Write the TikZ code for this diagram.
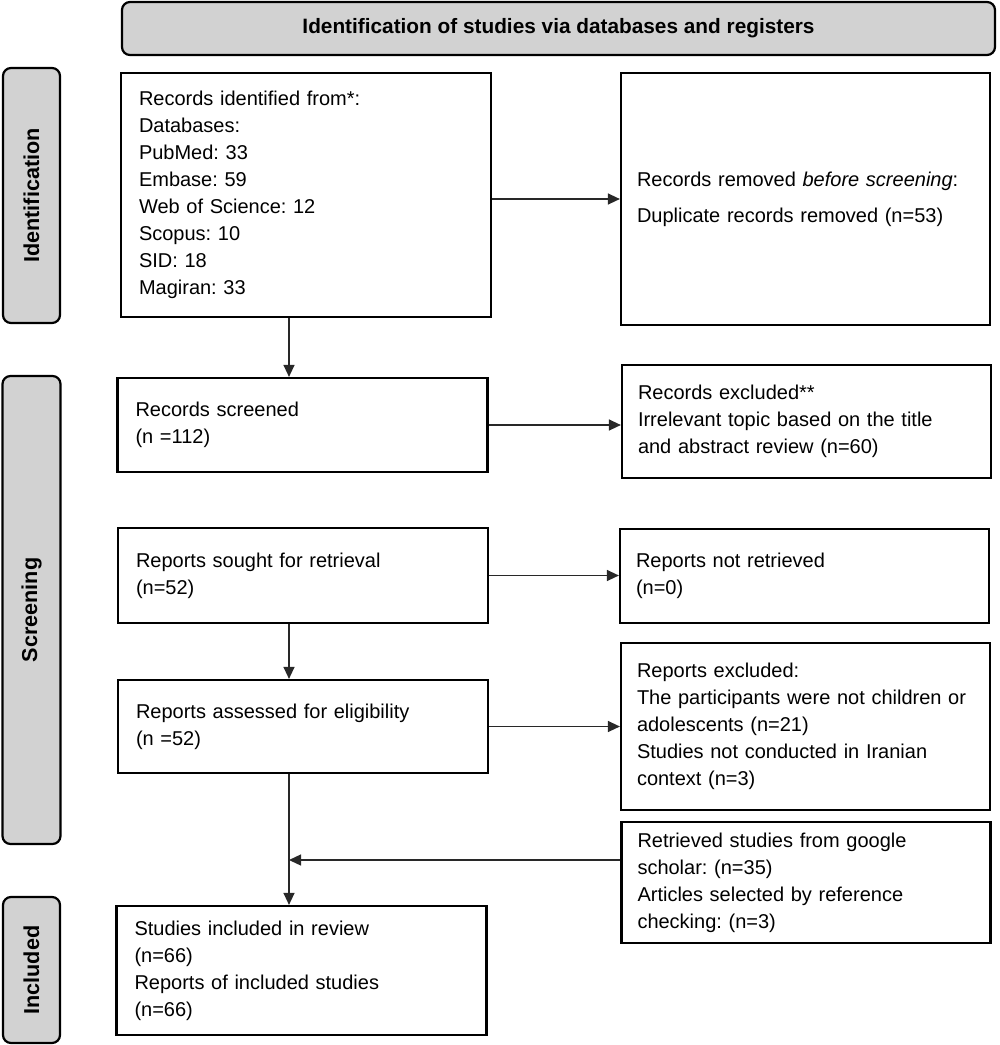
\documentclass[tikz,border=0pt]{standalone}
\usepackage{fontspec}
\setmainfont{Liberation Sans}
\usetikzlibrary{arrows.meta,calc}
\definecolor{barfill}{RGB}{210,210,210}
\definecolor{lineclr}{RGB}{40,40,40}
\begin{document}
\frenchspacing
\begin{tikzpicture}[x=0.5pt,y=-0.5pt,
 every node/.style={font=\fontsize{10}{13.5}\selectfont},
 box/.style={draw, line width=1.1pt, align=left, inner ysep=0pt, anchor=center},
 lbox/.style={box, inner xsep=9pt, text width=167pt},
 rbox/.style={box, inner xsep=8pt, text width=168.5pt},
 bar/.style={draw, line width=1.1pt, fill=barfill, rounded corners=4pt, font=\fontsize{10.8}{12}\selectfont\bfseries, inner sep=0pt},
 arr/.style={line width=0.65pt, draw=lineclr, -{Triangle[length=6pt,width=5.5pt]}}]
\useasboundingbox (0,0) rectangle (1000,1045);

% header and phase bars
\node[bar, minimum width=436.5pt, minimum height=26.5pt, font=\fontsize{10.4}{12}\selectfont\bfseries] (head) at (558.5,28.5) {Identification of studies via databases and registers};
\node[bar, rotate=90, minimum width=127.5pt, minimum height=28.5pt] (pid) at (31.5,195.5) {Identification};
\node[bar, rotate=90, minimum width=234pt, minimum height=29pt] (pscr) at (31.5,610) {Screening};
\node[bar, rotate=90, minimum width=73pt, minimum height=28.5pt] (pinc) at (31.5,970) {Included};

% boxes
\node[lbox, minimum height=122pt] (ident) at (306,195) {Records identified from*:\\Databases:\\PubMed: 33\\Embase: 59\\Web of Science: 12\\Scopus: 10\\SID: 18\\Magiran: 33};
\node[rbox, minimum height=126pt] (removed) at (805.5,199) {Records removed \textit{before screening}:\\[4.5pt]Duplicate records removed (n=53)};
\node[lbox, minimum height=47pt] (screened) at (302.5,425) {Records screened\\(n =112)};
\node[rbox, minimum height=56.5pt] (excl1) at (806.5,421.5) {Records excluded**\\Irrelevant topic based on the title\\and abstract review (n=60)};
\node[lbox, minimum height=47.5pt] (sought) at (303,575.5) {Reports sought for retrieval\\(n=52)};
\node[rbox, minimum height=47pt] (notretr) at (804.5,576) {Reports not retrieved\\(n=0)};
\node[lbox, minimum height=46.5pt] (assessed) at (303,726.5) {Reports assessed for eligibility\\(n =52)};
\node[rbox, minimum height=83.5pt] (excl2) at (805.5,726.5) {Reports excluded:\\The participants were not children or\\adolescents (n=21)\\Studies not conducted in Iranian\\context (n=3)};
\node[rbox, minimum height=60.5pt] (retrieved) at (806,882.5) {Retrieved studies from google\\scholar: (n=35)\\Articles selected by reference\\checking: (n=3)};
\node[lbox, minimum height=64.5pt] (included) at (301.5,970.5) {Studies included in review\\(n=66)\\Reports of included studies\\(n=66)};

% connectors
\coordinate (sp) at (289,0);
\coordinate (j) at (289,860);
\draw[arr] (ident.east |- removed.west) -- (removed.west);
\draw[arr] (ident.south -| sp) -- (screened.north -| sp);
\draw[arr] (screened.east) -- (screened.east -| excl1.west);
\draw[arr] (sought.south -| sp) -- (assessed.north -| sp);
\draw[arr] (sought.east) -- (sought.east -| notretr.west);
\draw[arr] (assessed.east) -- (assessed.east -| excl2.west);
\draw[arr] (assessed.south -| sp) -- (included.north -| sp);
\draw[arr] (retrieved.west |- j) -- (j);
\end{tikzpicture}
\end{document}
